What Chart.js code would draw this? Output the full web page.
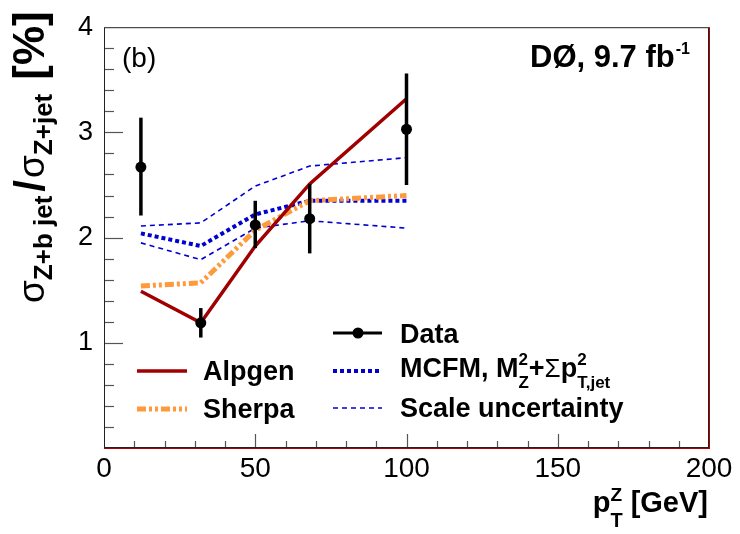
<!DOCTYPE html>
<html>
<head>
<meta charset="utf-8">
<script src="https://cdn.jsdelivr.net/npm/chart.js@4"></script>
<style>body{margin:0;background:#fff}</style>
</head>
<body>
<canvas id="c" width="740" height="534"></canvas>
<script>
// pT(Z) bin positions [GeV]
var ptBins = [12.2, 32, 50, 68, 100];
// measured ratio [%] with error bar ends
var dataVal = [2.67, 1.19, 2.12, 2.18, 3.03];
var dataTop = [3.14, 1.33, 2.35, 2.51, 3.56];
var dataBot = [2.21, 1.05, 1.90, 1.85, 2.50];
// predictions
var alpgen = [1.49, 1.19, 1.92, 2.51, 3.32];
var sherpa = [1.54, 1.57, 2.07, 2.35, 2.40];
var mcfm = [2.04, 1.92, 2.22, 2.35, 2.35];
var scaleUp = [2.11, 2.14, 2.49, 2.68, 2.76];
var scaleDown = [1.95, 1.79, 2.09, 2.16, 2.09];
// axis ticks
var xTicks = [0, 50, 100, 150, 200];
var yTicks = [0, 1, 2, 3, 4];

var FONT = '"Liberation Sans", Arial, sans-serif';
var RED = '#a00000', ORANGE = '#ff9a3c', BLUE = '#0000d2';

function pts(arr) {
  return ptBins.map(function(x, i) { return {x: x, y: arr[i]}; });
}

// draw a row of text pieces (for sub/superscripts), dry = only measure
function drawRuns(ctx, x, y, runs, dry) {
  var cx = x, hold = 0;
  runs.forEach(function(r) {
    ctx.font = r.font;
    var w = ctx.measureText(r.t).width;
    if (!dry) ctx.fillText(r.t, cx, y + (r.dy || 0));
    if (r.hold) {
      hold = Math.max(hold, w);
    } else {
      cx += Math.max(w, hold) + (r.gap || 0);
      hold = 0;
    }
  });
  return cx - x;
}

function sample(ctx, x1, x2, y, ds) {
  ctx.save();
  ctx.strokeStyle = ds.borderColor;
  ctx.lineWidth = ds.borderWidth;
  ctx.setLineDash(ds.borderDash || []);
  ctx.beginPath();
  ctx.moveTo(x1, y);
  ctx.lineTo(x2, y);
  ctx.stroke();
  ctx.restore();
}

var framePlugin = {
  id: 'frame',
  beforeDatasetsDraw: function(chart) {
    var ctx = chart.ctx, a = chart.chartArea;
    var xs = chart.scales.x, ys = chart.scales.y;
    ctx.save();
    ctx.strokeStyle = '#555';
    ctx.lineWidth = 1.2;
    var i, v, p;
    for (i = 1; i < 20; i++) {
      v = i * 0.2;
      p = Math.round(ys.getPixelForValue(v)) + 0.5;
      var len = (i % 5 == 0) ? 19 : 10;
      ctx.beginPath(); ctx.moveTo(a.left, p); ctx.lineTo(a.left + len, p); ctx.stroke();
    }
    for (i = 1; i < 20; i++) {
      v = i * 10;
      p = Math.round(xs.getPixelForValue(v)) + 0.5;
      var len2 = (i % 5 == 0) ? 14 : 7;
      ctx.beginPath(); ctx.moveTo(p, a.bottom); ctx.lineTo(p, a.bottom - len2); ctx.stroke();
    }
    ctx.strokeStyle = '#222';
    ctx.lineWidth = 1;
    ctx.strokeRect(a.left + 0.5, a.top + 0.5, a.right - a.left - 1, a.bottom - a.top - 1);
    ctx.strokeStyle = '#b00000';
    ctx.beginPath();
    ctx.moveTo(a.left, a.bottom + 0.5); ctx.lineTo(a.right + 1, a.bottom + 0.5);
    ctx.moveTo(a.right + 0.5, a.top); ctx.lineTo(a.right + 0.5, a.bottom + 1);
    ctx.stroke();
    ctx.restore();
  },
  afterDatasetsDraw: function(chart) {
    // error bars on data
    var ctx = chart.ctx, xs = chart.scales.x, ys = chart.scales.y;
    ctx.save();
    ctx.strokeStyle = '#000';
    ctx.lineWidth = 3.5;
    for (var i = 0; i < ptBins.length; i++) {
      var px = xs.getPixelForValue(ptBins[i]);
      ctx.beginPath();
      ctx.moveTo(px, ys.getPixelForValue(dataTop[i]));
      ctx.lineTo(px, ys.getPixelForValue(dataBot[i]));
      ctx.stroke();
    }
    ctx.restore();
  },
  afterDraw: function(chart) {
    var ctx = chart.ctx, ds = chart.data.datasets;
    ctx.save();
    ctx.fillStyle = '#000';
    ctx.textAlign = 'left';
    ctx.textBaseline = 'alphabetic';

    // y axis title
    ctx.save();
    ctx.translate(44, 303);
    ctx.rotate(-Math.PI / 2);
    drawRuns(ctx, 0, 0, [
      {t: '\u03c3', font: '37px ' + FONT},
      {t: 'Z+b jet', font: 'bold 26px ' + FONT, dy: 8, gap: 4},
      {t: '/', font: 'bold 42px ' + FONT, gap: 2},
      {t: '\u03c3', font: '37px ' + FONT},
      {t: 'Z+jet', font: 'bold 26px ' + FONT, dy: 8, gap: 14},
      {t: '[%]', font: 'bold 44px ' + FONT}
    ]);
    ctx.restore();

    // x axis title, right aligned to the frame
    var xt = [
      {t: 'p', font: 'bold 29px ' + FONT},
      {t: 'Z', font: 'bold 19px ' + FONT, dy: -11, hold: true},
      {t: 'T', font: 'bold 20px ' + FONT, dy: 15},
      {t: ' [GeV]', font: 'bold 29px ' + FONT}
    ];
    var xw = drawRuns(ctx, 0, 0, xt, true);
    drawRuns(ctx, 708 - xw, 512, xt);

    // labels in the frame
    ctx.font = '28px ' + FONT;
    ctx.fillText('(b)', 122, 67);
    drawRuns(ctx, 530, 67, [
      {t: 'D\u00d8, 9.7 fb', font: 'bold 31px ' + FONT, gap: 1},
      {t: '-1', font: 'bold 16px ' + FONT, dy: -13}
    ]);

    // legend
    var bf = 'bold 27px ' + FONT, sf = 'bold 17px ' + FONT;
    ctx.save();
    ctx.strokeStyle = '#000'; ctx.lineWidth = 3;
    ctx.beginPath(); ctx.moveTo(333, 333); ctx.lineTo(382, 333); ctx.stroke();
    ctx.beginPath(); ctx.arc(358, 333, 5.5, 0, Math.PI * 2); ctx.fill();
    ctx.restore();
    ctx.font = bf;
    ctx.fillText('Data', 400, 343);

    sample(ctx, 137, 187, 371, ds[1]);
    ctx.font = bf;
    ctx.fillText('Alpgen', 203, 380);
    sample(ctx, 137, 187, 409, ds[2]);
    ctx.font = bf;
    ctx.fillText('Sherpa', 203, 418);

    sample(ctx, 333, 382, 371, ds[3]);
    drawRuns(ctx, 400, 377, [
      {t: 'MCFM, M', font: bf},
      {t: '2', font: sf, dy: -12, hold: true},
      {t: 'Z', font: sf, dy: 11},
      {t: '+', font: bf},
      {t: '\u03a3', font: '26px ' + FONT},
      {t: 'p', font: bf},
      {t: '2', font: sf, dy: -12, hold: true},
      {t: 'T,jet', font: sf, dy: 11}
    ]);
    sample(ctx, 333, 382, 408, ds[4]);
    ctx.font = bf;
    ctx.fillText('Scale uncertainty', 400, 417);
    ctx.restore();
  }
};

var ctx = document.getElementById('c').getContext('2d');
var chart = new Chart(ctx, {
  type: 'line',
  data: {
    datasets: [
      {label: 'Data', data: pts(dataVal), showLine: false, pointRadius: 5.5,
        pointBackgroundColor: '#000', pointBorderWidth: 0, order: 0},
      {label: 'Alpgen', data: pts(alpgen), borderColor: RED, borderWidth: 3.5,
        pointRadius: 0, order: 1},
      {label: 'Sherpa', data: pts(sherpa), borderColor: ORANGE, borderWidth: 5,
        borderDash: [9, 3, 3, 3, 3, 3], pointRadius: 0, order: 2},
      {label: 'MCFM', data: pts(mcfm), borderColor: BLUE, borderWidth: 4,
        borderDash: [4, 3], pointRadius: 0, order: 3},
      {label: 'Scale up', data: pts(scaleUp), borderColor: BLUE, borderWidth: 1.6,
        borderDash: [5, 4], pointRadius: 0, order: 4},
      {label: 'Scale down', data: pts(scaleDown), borderColor: BLUE, borderWidth: 1.6,
        borderDash: [5, 4], pointRadius: 0, order: 5}
    ]
  },
  options: {
    responsive: false,
    animation: false,
    devicePixelRatio: 1,
    layout: {padding: {top: 15, right: 31, left: 0, bottom: 0}},
    plugins: {legend: {display: false}, tooltip: {enabled: false}},
    scales: {
      x: {
        type: 'linear', min: 0, max: 200,
        grid: {display: false, drawTicks: false},
        border: {display: false},
        afterBuildTicks: function(s) { s.ticks = xTicks.map(function(v) { return {value: v}; }); },
        afterFit: function(s) { s.height = 86; },
        ticks: {color: '#000', font: {family: FONT, size: 28}, padding: 4, maxRotation: 0, autoSkip: false}
      },
      y: {
        min: 0, max: 4,
        grid: {display: false, drawTicks: false},
        border: {display: false},
        afterBuildTicks: function(s) { s.ticks = yTicks.map(function(v) { return {value: v}; }); },
        afterFit: function(s) { s.width = 104; },
        ticks: {color: '#000', font: {family: FONT, size: 27}, padding: 11,
          callback: function(v) { return v === 0 ? '' : v; }}
      }
    }
  },
  plugins: [framePlugin]
});
</script>
</body>
</html>
